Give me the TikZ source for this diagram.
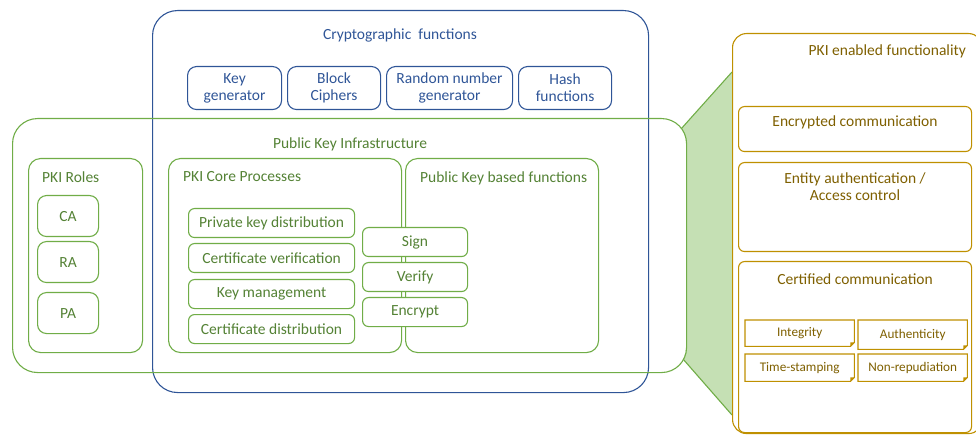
\documentclass[tikz,border=0pt]{standalone}
\usepackage{fontspec}
\setmainfont{Carlito}
\definecolor{cblue}{HTML}{2F5597}
\definecolor{cgreen}{HTML}{70AD47}
\definecolor{tgreen}{HTML}{548235}
\definecolor{cgold}{HTML}{BF9000}
\definecolor{tgold}{HTML}{7F6000}
\definecolor{gfill}{HTML}{C5E0B4}
\tikzset{
  frame/.style={anchor=north west, inner sep=0pt, align=center},
  bluebox/.style={frame, draw=cblue, line width=1.1pt, rounded corners=9pt, text=cblue},
  greenbox/.style={frame, draw=cgreen, line width=1.1pt, rounded corners=9pt, text=tgreen},
  goldbox/.style={frame, draw=cgold, line width=1.1pt, rounded corners=6pt, fill=white, text=tgold},
  notebox/.style={frame, text=tgold, font=\fontsize{13.2}{15}\selectfont},
  btxt/.style={text=cblue, inner sep=0pt},
  gtxt/.style={text=tgreen, inner sep=0pt},
  otxt/.style={text=tgold, inner sep=0pt},
}
% outline of a note with a folded bottom-right corner
\newcommand{\foldnote}[1]{%
  \draw[cgold, line width=1.1pt] (#1.north west) -- (#1.north east) -- ([yshift=4pt]#1.south east)
    -- ([xshift=-4pt]#1.south east) -- (#1.south west) -- cycle;
  \fill[cgold] ([yshift=4pt]#1.south east) -- ([xshift=-4pt]#1.south east) -- ([xshift=-4pt,yshift=4pt]#1.south east) -- cycle;}
\begin{document}
\begin{tikzpicture}[x=1pt, y=-1pt, font=\fontsize{15.5}{17}\selectfont]
\useasboundingbox (0,0) rectangle (976,435);

% connector wedge between the infrastructure and the enabled functionality
\coordinate (wa) at (681,129);
\coordinate (wb) at (732,72);
\coordinate (wc) at (732,415);
\coordinate (wd) at (683,359);
\fill[gfill] (wa) -- (wb) -- (wc) -- (wd) -- (660,359) -- (660,129) -- cycle;
\draw[cgreen, line width=1.1pt] (wa) -- (wb) (wd) -- (wc);

% white ground of the infrastructure frame
\fill[white, rounded corners=25pt] (12,118) rectangle (686,372);

% cryptographic functions
\node[bluebox, rounded corners=25pt, minimum width=496pt, minimum height=382pt] (crypto) at (152,10) {};
\node[btxt] (cryptot) at (400,35) {Cryptographic\ \ functions};
\node[bluebox, minimum width=94pt, minimum height=43pt] (keygen) at (187,66) {Key\\generator};
\node[bluebox, minimum width=93pt, minimum height=43pt] (block) at (287,66) {Block\\Ciphers};
\node[bluebox, minimum width=126pt, minimum height=43pt] (rng) at (386,66) {Random number\\generator};
\node[bluebox, minimum width=93pt, minimum height=43pt] (hash) at (518,66) {Hash\\functions};

% public key infrastructure
\node[greenbox, rounded corners=25pt, minimum width=674pt, minimum height=254pt] (pki) at (12,118) {};
\node[gtxt] (pkit) at (350,144) {Public Key Infrastructure};

\node[greenbox, rounded corners=12pt, minimum width=114pt, minimum height=194pt] (roles) at (28,158) {};
\node[gtxt, anchor=west] (rolest) at (42,177) {PKI Roles};
\node[greenbox, minimum width=61pt, minimum height=41pt] (ca) at (37,195) {CA};
\node[greenbox, minimum width=61pt, minimum height=41pt] (ra) at (37,241) {RA};
\node[greenbox, minimum width=61pt, minimum height=41pt] (pa) at (37,292) {PA};

\node[greenbox, rounded corners=12pt, minimum width=233pt, minimum height=194pt] (core) at (168,158) {};
\node[gtxt, anchor=west] (coret) at (183,177) {PKI Core Processes};
\node[greenbox, rounded corners=12pt, minimum width=193pt, minimum height=194pt] (pkf) at (405,158) {};
\node[gtxt, anchor=west] (pkft) at (420,178) {Public Key based functions};

\node[greenbox, rounded corners=6pt, minimum width=166pt, minimum height=29pt] (privd) at (188,208) {Private key distribution};
\node[greenbox, rounded corners=6pt, minimum width=166pt, minimum height=29pt] (certv) at (188,243) {Certificate verification};
\node[greenbox, rounded corners=6pt, minimum width=166pt, minimum height=29pt] (keym) at (188,279) {Key management};
\node[greenbox, rounded corners=6pt, minimum width=166pt, minimum height=29pt] (certd) at (188,314) {Certificate distribution};

\node[greenbox, fill=white, rounded corners=6pt, minimum width=105pt, minimum height=29pt] (sign) at (362,227) {Sign};
\node[greenbox, fill=white, rounded corners=6pt, minimum width=105pt, minimum height=29pt] (verify) at (362,262) {Verify};
\node[greenbox, fill=white, rounded corners=6pt, minimum width=105pt, minimum height=29pt] (encrypt) at (362,297) {Encrypt};

% PKI enabled functionality
\node[goldbox, rounded corners=14pt, minimum width=250pt, minimum height=400pt] (enabled) at (732,33) {};
\node[otxt, anchor=east] (enabledt) at (966,51) {PKI enabled functionality};
\node[goldbox, minimum width=233pt, minimum height=45pt] (enc) at (738,106) {};
\node[otxt] (enct) at (855,122) {Encrypted communication};
\node[goldbox, minimum width=233pt, minimum height=89pt] (ent) at (738,162) {};
\node[otxt, align=center] (entt) at (855,187) {Entity authentication /\\Access control};
\node[goldbox, minimum width=233pt, minimum height=171pt] (cert) at (738,261) {};
\node[otxt] (certt) at (855,279) {Certified communication};

\node[notebox, minimum width=109pt, minimum height=26pt] (integ) at (745,320) {Integrity};
\node[notebox, minimum width=109pt, minimum height=29pt] (auth) at (858,320) {Authenticity};
\node[notebox, minimum width=109pt, minimum height=27pt] (time) at (745,354) {Time-stamping};
\node[notebox, minimum width=109pt, minimum height=27pt] (nonrep) at (858,354) {Non-repudiation};
\foldnote{integ}
\foldnote{auth}
\foldnote{time}
\foldnote{nonrep}
\end{tikzpicture}
\end{document}
